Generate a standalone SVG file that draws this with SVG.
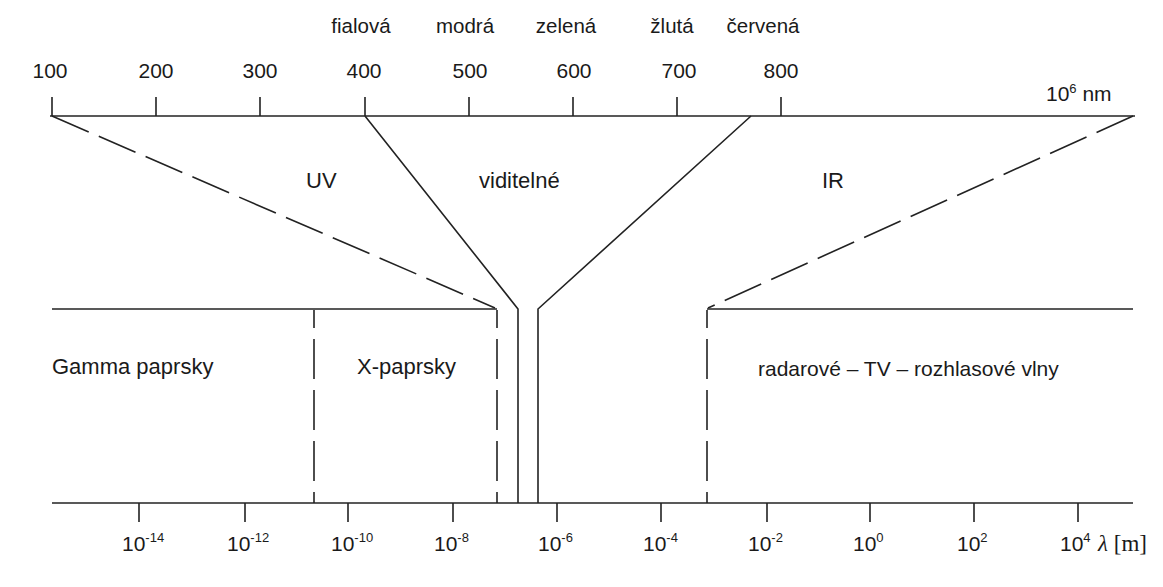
<svg xmlns="http://www.w3.org/2000/svg" width="1163" height="587" viewBox="0 0 1163 587">
<style>
.ln{stroke:#222;stroke-width:1.6;fill:none;stroke-linecap:butt}
.ds{stroke-dasharray:40 11}
.t{font-family:"Liberation Sans",Arial,sans-serif;fill:#1a1a1a}
.top{font-size:21px;text-anchor:middle}
.col{font-size:20.5px;text-anchor:middle}
.lab{font-size:22px}
.bot{font-size:21px}
.sup{font-size:13px}
.ser{font-family:"Liberation Serif","Times New Roman",serif;font-size:23px;fill:#1a1a1a}
</style>
<rect width="1163" height="587" fill="#fff"/>
<g id="top-axis">
<line class="ln" x1="50" y1="116" x2="1135" y2="116"/>
<path class="ln" d="M52 97V116M156 97V116M260 97V116M365 97V116M469 97V116M573 97V116M677 97V116M781 97V116"/>
<g class="t top">
<text x="50" y="78">100</text><text x="156" y="78">200</text><text x="260" y="78">300</text><text x="364" y="78">400</text>
<text x="470" y="78">500</text><text x="574" y="78">600</text><text x="679" y="78">700</text><text x="781" y="78">800</text>
</g>
<g class="t col">
<text x="361" y="33">fialová</text><text x="465" y="33">modrá</text><text x="566" y="33">zelená</text><text x="672" y="33">žlutá</text><text x="763" y="33">červená</text>
</g>
<text class="t" x="1046" y="101" font-size="21">10<tspan class="sup" dy="-8">6</tspan><tspan dy="8"> nm</tspan></text>
</g>
<g id="connectors">
<line class="ln ds" x1="52" y1="116" x2="495" y2="308"/>
<polyline class="ln" points="365,116 518,309 518,503"/>
<polyline class="ln" points="751,116 538,309 538,503"/>
<line class="ln ds" x1="1133" y1="116" x2="708" y2="308"/>
<line class="ln" x1="52" y1="309" x2="497" y2="309"/>
<line class="ln" x1="707" y1="309" x2="1133" y2="309"/>
<line class="ln ds" x1="314" y1="310" x2="314" y2="503" stroke-dashoffset="22"/>
<line class="ln ds" x1="497" y1="310" x2="497" y2="503" stroke-dashoffset="22"/>
<line class="ln ds" x1="707" y1="310" x2="707" y2="503" stroke-dashoffset="22"/>
</g>
<g id="region-labels" class="t lab">
<text id="uv" x="306" y="188">UV</text>
<text id="viditelne" x="479" y="188">viditelné</text>
<text id="ir" x="822" y="188">IR</text>
<text id="gamma" x="52" y="374">Gamma paprsky</text>
<text id="x-paprsky" x="357" y="374">X-paprsky</text>
<text id="radio" x="758" y="376" font-size="21">radarové – TV – rozhlasové vlny</text>
</g>
<g id="bottom-axis">
<line class="ln" x1="52" y1="503" x2="1133" y2="503"/>
<path class="ln" d="M139 503V522M245 503V522M348 503V522M453 503V522M557 503V522M661 503V522M767 503V522M870 503V522M974 503V522M1078 503V522"/>
<g class="t bot">
<text x="122" y="551">10<tspan class="sup" dy="-9">-14</tspan></text>
<text x="227" y="551">10<tspan class="sup" dy="-9">-12</tspan></text>
<text x="331" y="551">10<tspan class="sup" dy="-9">-10</tspan></text>
<text x="434" y="551">10<tspan class="sup" dy="-9">-8</tspan></text>
<text x="538" y="551">10<tspan class="sup" dy="-9">-6</tspan></text>
<text x="643" y="551">10<tspan class="sup" dy="-9">-4</tspan></text>
<text x="748" y="551">10<tspan class="sup" dy="-9">-2</tspan></text>
<text x="853" y="551">10<tspan class="sup" dy="-9">0</tspan></text>
<text x="957" y="551">10<tspan class="sup" dy="-9">2</tspan></text>
<text x="1060" y="551">10<tspan class="sup" dy="-9">4</tspan></text>
</g>
<text class="ser" x="1098" y="551"><tspan font-style="italic">λ</tspan> [m]</text>
</g>
</svg>
